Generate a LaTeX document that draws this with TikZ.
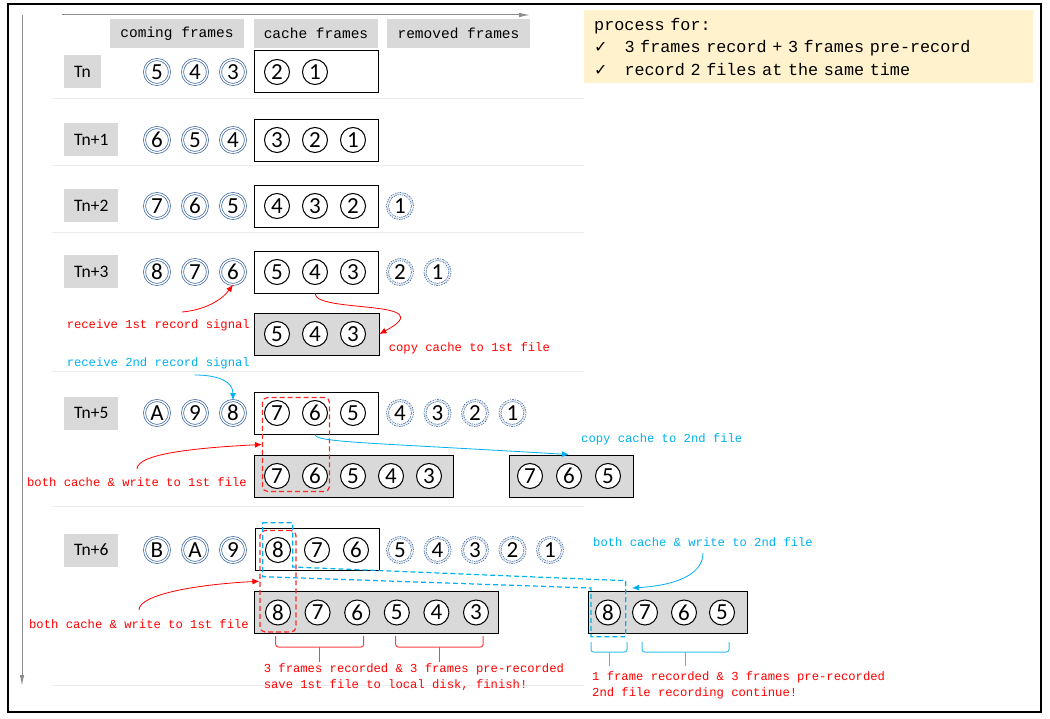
\documentclass[tikz,border=0pt]{standalone}
\usepackage{fontspec}
\setmainfont{Carlito}
\newfontfamily\monofont{Liberation Mono}
\newfontfamily\symfont{DejaVu Sans}
\usepackage{xcolor}
\definecolor{boxgray}{HTML}{D9D9D9}
\definecolor{notebg}{HTML}{FFF2CC}
\definecolor{noteblue}{RGB}{0,176,240}
\definecolor{frameblue}{RGB}{70,110,165}
\definecolor{sepgray}{HTML}{EBEBEB}
\definecolor{axisgray}{HTML}{8C8C8C}
\usepackage{tikz}
\usetikzlibrary{arrows.meta,fit}

\begin{document}
\begin{tikzpicture}
        [
            x = 1pt, y = -1pt,
            every node/.append style = {inner sep = 0pt},
            tlabel/.style = {fill = boxgray, font = \fontsize{17.5}{20}\selectfont, minimum height = 33pt, inner xsep = 10pt, anchor = west},
            head/.style = {fill = boxgray, font = \monofont\fontsize{14.5}{17}\selectfont, minimum height = 29pt, minimum width = #1},
            comefr/.style = {circle, draw = frameblue, double = white, double distance = 1.3pt, line width = 0.75pt, minimum size = 25pt, font = \fontsize{23}{23}\selectfont},
            gonefr/.style = {comefr, dash pattern = on 1.3pt off 1pt},
            cachefr/.style = {circle, draw, line width = 1pt, fill = white, minimum size = 25pt, font = \fontsize{23}{23}\selectfont},
            framebox/.style = {draw, line width = 0.9pt, minimum height = 42pt, minimum width = #1, anchor = west},
            filebox/.style = {framebox = #1, fill = boxgray},
            rednote/.style = {text = red, font = \monofont\fontsize{12.2}{16}\selectfont},
            bluenote/.style = {text = noteblue, font = \monofont\fontsize{12.2}{16}\selectfont},
            redarrow/.style = {draw = red, line width = 0.8pt, -{Latex[length = 7pt, width = 6pt]}},
            bluearrow/.style = {draw = noteblue, line width = 0.8pt, -{Latex[length = 7pt, width = 6pt]}},
            reddash/.style = {draw = red!85, line width = 1.2pt, dash pattern = on 5pt off 3pt, rounded corners = 5pt},
            bluedash/.style = {draw = noteblue, line width = 1.2pt, dash pattern = on 5pt off 3pt},
            axis/.style = {draw = axisgray, line width = 1pt, -{Latex[length = 11pt, width = 4.5pt]}}
        ]
        \useasboundingbox (0,0) rectangle (1050,719);
        \draw[line width = 1.2pt] (8,4) rectangle (1041,712);

        % separators and time axes
        \foreach \y in {99,166,233,372,506,685}
            \draw[sepgray, line width = 1pt] (52,\y) -- (584,\y);
        \draw[axis] (22,15) -- (22,686);
        \draw[axis] (62,15) -- (530,15);

        % column heads
        \node[head = 134pt] (hcome) at (177,33.5) {coming frames};
        \node[head = 124pt] (hcache) at (316,33.5) {cache frames};
        \node[head = 143pt] (hgone) at (458.5,33.5) {removed frames};

        % process note
        \node[fill = notebg, anchor = north west, text width = 429pt, inner xsep = 10pt, minimum height = 73pt, align = left,
              font = \monofont\fontsize{16.8}{22.5}\selectfont] (note) at (584,10)
            {process for:\\
             \makebox[30.3pt][l]{\symfont\fontsize{16}{16}\selectfont ✓}3 frames record + 3 frames pre-record\\
             \makebox[30.3pt][l]{\symfont\fontsize{16}{16}\selectfont ✓}record 2 files at the same time};

        % Tn
        \node[tlabel] (t0) at (64,72) {Tn};
        \foreach \n [count=\i] in {5,4,3}
            \node[comefr] (t0c\i) at ({119+38*\i},72) {\n};
        \node[framebox = 124pt] (t0box) at (254,71) {};
        \foreach \n [count=\i] in {2,1}
            \node[cachefr] (t0k\i) at ({239+38*\i},72) {\n};

        % Tn+1
        \node[tlabel] (t1) at (64,140) {Tn+1};
        \foreach \n [count=\i] in {6,5,4}
            \node[comefr] (t1c\i) at ({119+38*\i},140) {\n};
        \node[framebox = 124pt] (t1box) at (254,140) {};
        \foreach \n [count=\i] in {3,2,1}
            \node[cachefr] (t1k\i) at ({239+38*\i},140) {\n};

        % Tn+2
        \node[tlabel] (t2) at (64,206) {Tn+2};
        \foreach \n [count=\i] in {7,6,5}
            \node[comefr] (t2c\i) at ({119+38*\i},206) {\n};
        \node[framebox = 124pt] (t2box) at (254,206) {};
        \foreach \n [count=\i] in {4,3,2}
            \node[cachefr] (t2k\i) at ({239+38*\i},206) {\n};
        \node[gonefr] (t2r1) at (400,206) {1};

        % Tn+3
        \node[tlabel] (t3) at (64,272) {Tn+3};
        \foreach \n [count=\i] in {8,7,6}
            \node[comefr] (t3c\i) at ({119+38*\i},272) {\n};
        \node[framebox = 124pt] (t3box) at (254,272) {};
        \foreach \n [count=\i] in {5,4,3}
            \node[cachefr] (t3k\i) at ({239+38*\i},272) {\n};
        \foreach \n [count=\i] in {2,1}
            \node[gonefr] (t3r\i) at ({362.5+37.5*\i},272) {\n};
        \node[filebox = 124.5pt] (f3) at (254,334) {};
        \foreach \n [count=\i] in {5,4,3}
            \node[cachefr] (f3a\i) at ({239+38*\i},334) {\n};

        \node[rednote, anchor = east] (sig1) at (250,325) {receive 1st record signal};
        \coordinate (s1) at (182,312);
        \draw[redarrow] (s1) .. controls +(22,-2) and +(-12,16) .. (t3c3.south);
        \node[rednote, anchor = west] (copy1) at (388.6,348) {copy cache to 1st file};
        \draw[redarrow] (t3box.south -| t3k2) .. controls +(0,20) and +(65,-35) .. (f3.east);

        % Tn+5
        \node[bluenote, anchor = east] (sig2) at (250,363) {receive 2nd record signal};
        \coordinate (s2) at (194.6,375);
        \node[tlabel] (t5) at (64,413) {Tn+5};
        \foreach \n [count=\i] in {A,9,8}
            \node[comefr] (t5c\i) at ({119+38*\i},413) {\n};
        \node[framebox = 124pt] (t5box) at (254,413) {};
        \foreach \n [count=\i] in {7,6,5}
            \node[cachefr] (t5k\i) at ({239+38*\i},413) {\n};
        \foreach \n [count=\i] in {4,3,2,1}
            \node[gonefr] (t5r\i) at ({362.5+37.5*\i},413) {\n};
        \draw[bluearrow] (s2) .. controls +(25,0) and +(0,-18) .. (t5c3.north);

        \node[filebox = 198.5pt] (f5a) at (254,476) {};
        \foreach \n [count=\i] in {7,6,5,4,3}
            \node[cachefr] (f5a\i) at ({239+38*\i},476) {\n};
        \node[filebox = 124pt] (f5b) at (509,476) {};
        \foreach \n [count=\i] in {7,6,5}
            \node[cachefr] (f5b\i) at ({491+39*\i},476) {\n};

        \node[reddash, fit = (t5k1) (f5a2), inner xsep = 1.5pt, inner ysep = 2.5pt] (sel5) {};
        \node[rednote, anchor = east] (both5) at (247,482) {both cache \& write to 1st file};
        \coordinate (s3) at (137,469);
        \draw[redarrow] (s3) .. controls +(0,-16) and +(-60,3) .. (sel5.west);
        \node[bluenote, anchor = west] (copy2) at (581,439) {copy cache to 2nd file};
        \draw[bluearrow] (t5box.south -| t5k2) .. controls +(0,8) and +(-200,-12) .. (f5b.north -| f5b2);

        % Tn+6
        \node[tlabel] (t6) at (64,550) {Tn+6};
        \foreach \n [count=\i] in {B,A,9}
            \node[comefr] (t6c\i) at ({119+38*\i},550) {\n};
        \node[framebox = 124pt] (t6box) at (255,549.5) {};
        \foreach \n [count=\i] in {8,7,6}
            \node[cachefr] (t6k\i) at ({239+39*\i},550) {\n};
        \foreach \n [count=\i] in {5,4,3,2,1}
            \node[gonefr] (t6r\i) at ({362.5+37.5*\i},550) {\n};

        \node[filebox = 243.5pt] (f6a) at (254,612.5) {};
        \foreach \n [count=\i] in {8,7,6,5,4,3}
            \node[cachefr] (f6a\i) at ({238.4+39.6*\i},612.5) {\n};
        \node[filebox = 159pt] (f6b) at (588,612.5) {};
        \foreach \n/\x in {8/608,7/645,6/684,5/722}
            \node[cachefr] (f6b\n) at (\x,612.5) {\n};

        \node[reddash, fit = (t6k1) (f6a1), inner xsep = 5pt, inner ysep = 6.5pt] (sel6) {};
        \draw[bluedash] (262.7,522.7) -- (292.7,522.7) -- (292.7,567) -- (625.7,580.7) -- (625.7,636.7)
            -- (591,636.7) -- (591,588) -- (262.7,576.7) -- cycle;

        \node[rednote, anchor = east] (both6) at (249,624) {both cache \& write to 1st file};
        \coordinate (s4) at (139,610);
        \draw[redarrow] (s4) .. controls +(0,-16) and +(-60,3) .. (sel6.west);
        \node[bluenote, anchor = west] (both62) at (593,542) {both cache \& write to 2nd file};
        \coordinate (s5) at (703,553);
        \coordinate (e5) at (632,588);
        \draw[bluearrow] (s5) .. controls +(0,25) and +(35,-2) .. (e5);

        % braces
        \draw[red!75, line width = 1pt, rounded corners = 2.5pt] (275.7,636) -- (275.7,647) -- (363.6,647) -- (363.6,636);
        \draw[red!75, line width = 1pt] (319.6,647) -- (319.6,662);
        \draw[red!75, line width = 1pt, rounded corners = 2.5pt] (395.7,636) -- (395.7,647) -- (483,647) -- (483,636);
        \draw[red!75, line width = 1pt] (439,647) -- (439,662);
        \draw[noteblue!80, line width = 1pt, rounded corners = 2.5pt] (591,642) -- (591,652) -- (627,652) -- (627,642);
        \draw[noteblue!80, line width = 1pt] (609,652) -- (609,666);
        \draw[noteblue!80, line width = 1pt, rounded corners = 2.5pt] (642,642) -- (642,652) -- (729,652) -- (729,642);
        \draw[noteblue!80, line width = 1pt] (685,652) -- (685,666);

        \node[rednote, anchor = west, align = left] (done1) at (263.6,677)
            {3 frames recorded \& 3 frames pre-recorded\\save 1st file to local disk, finish!};
        \node[rednote, anchor = west, align = left] (done2) at (592,685)
            {1 frame recorded \& 3 frames pre-recorded\\2nd file recording continue!};
    \end{tikzpicture}
\end{document}
